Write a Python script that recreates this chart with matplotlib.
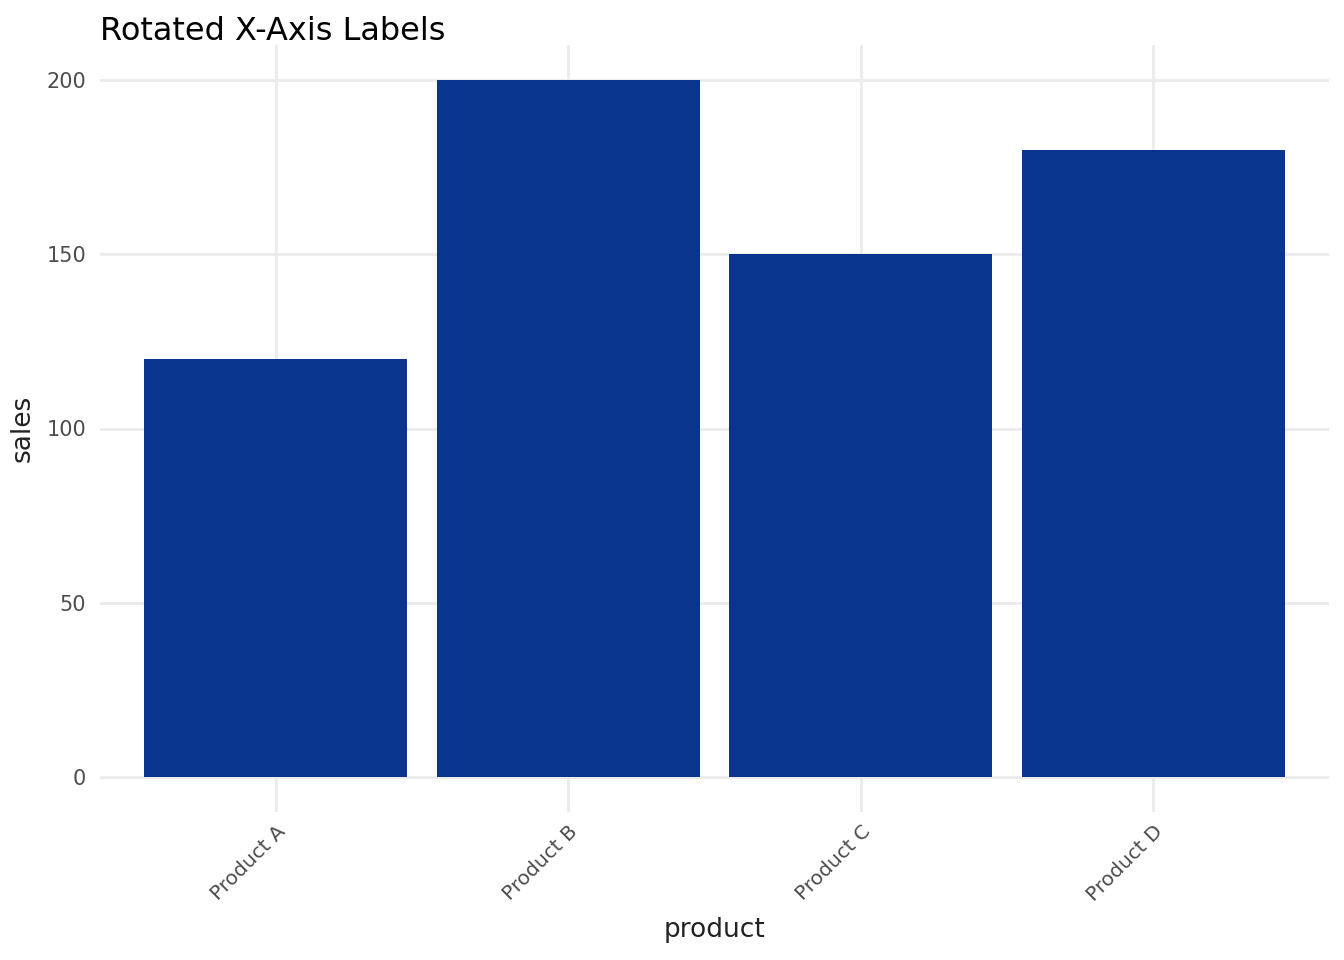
import matplotlib
matplotlib.use('Agg')
import matplotlib.pyplot as plt

# data
products = ['Product A', 'Product B', 'Product C', 'Product D']
sales = [120, 200, 150, 180]

bar_color = '#09358F'
grid_color = '#EBEBEB'

fig = plt.figure(figsize=(13.44, 9.6), dpi=100)
ax = fig.add_axes([100/1344, (960-812)/960, (1329-100)/1344, (812-45)/960])

x = list(range(1, len(products) + 1))
ax.bar(x, sales, width=0.9, color=bar_color, zorder=2)

ax.set_xlim(0.4, len(products) + 0.6)
ax.set_ylim(-10, 210)
ax.set_yticks([0, 50, 100, 150, 200])
ax.set_xticks(x)
ax.set_xticklabels(products, rotation=45, ha='right', va='top',
                   rotation_mode='anchor', fontsize=14.5, color='#4D4D4D')
ax.tick_params(axis='y', labelsize=15, labelcolor='#4D4D4D')
ax.tick_params(length=0, pad=10)
ax.tick_params(axis='x', pad=7)

ax.grid(True, color=grid_color, linewidth=2.0, zorder=0)
ax.set_axisbelow(True)
for s in ax.spines.values():
    s.set_visible(False)

ax.set_xlabel('product', fontsize=19, color='#222222', labelpad=9)
ax.set_ylabel('sales', fontsize=19, color='#222222', labelpad=8)
fig.text(100/1344, 1 - 31/960, 'Rotated X-Axis Labels', fontsize=23,
         ha='left', va='center', color='black')

fig.savefig('out.png', dpi=100)
